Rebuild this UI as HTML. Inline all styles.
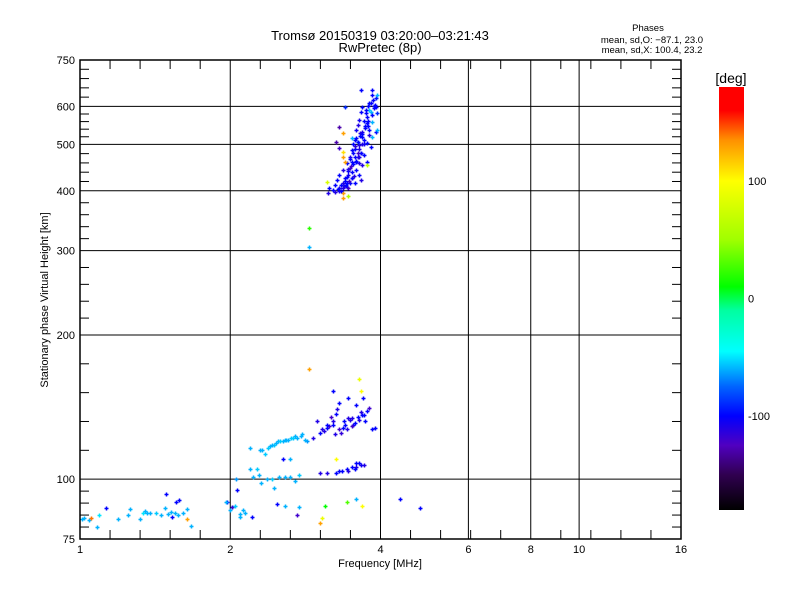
<!DOCTYPE html>
<html><head><meta charset="utf-8"><style>
body{margin:0;background:#fff}
svg{display:block;font-family:"Liberation Sans",sans-serif}
</style></head><body>
<svg id="chart" width="800" height="600" xmlns="http://www.w3.org/2000/svg">
<defs>
<linearGradient id="cmap" x1="0" y1="1" x2="0" y2="0">
<stop offset="0" stop-color="#000000"/>
<stop offset="0.0833" stop-color="#300050"/>
<stop offset="0.1528" stop-color="#5000c0"/>
<stop offset="0.2222" stop-color="#0000ff"/>
<stop offset="0.2917" stop-color="#0064ff"/>
<stop offset="0.375" stop-color="#00ffff"/>
<stop offset="0.4722" stop-color="#00ffa0"/>
<stop offset="0.5278" stop-color="#00ff00"/>
<stop offset="0.6389" stop-color="#a0ff00"/>
<stop offset="0.7778" stop-color="#ffff00"/>
<stop offset="0.875" stop-color="#ff9000"/>
<stop offset="0.9444" stop-color="#ff0000"/>
<stop offset="1" stop-color="#ff0000"/>
</linearGradient>
</defs>
<rect width="800" height="600" fill="#fff"/>
<text x="380" y="40" font-size="13" text-anchor="middle">Tromsø 20150319 03:20:00–03:21:43</text>
<text x="380" y="52" font-size="13" text-anchor="middle">RwPretec (8p)</text>
<g font-size="9.5" text-anchor="middle">
<text x="648" y="31">Phases</text>
<text x="652" y="43">mean, sd,O: −87.1, 23.0</text>
<text x="652" y="53">mean, sd,X: 100.4, 23.2</text>
</g>
<g id="grid"></g>
<g id="marks"></g>
<rect x="80" y="60" width="601" height="479" fill="none" stroke="#000" stroke-width="1.5"/>
<g id="axes" font-size="11"></g>
<text x="380" y="567" font-size="11" text-anchor="middle">Frequency [MHz]</text>
<text transform="translate(48,300) rotate(-90)" font-size="11" text-anchor="middle">Stationary phase Virtual Height [km]</text>
<rect x="719" y="87" width="25" height="423" fill="url(#cmap)"/>
<text x="731" y="83" font-size="14" text-anchor="middle">[deg]</text>
<g id="cbticks" font-size="11"></g>
</svg>
<script>
const xMajors=[1,2,4,8,16];
const xGridExtra=[6,10];
const xTickLabels=["1","2","4","6","8","10","16"];
const xTickValues=[1,2,4,6,8,10,16];
const yMajors=[75,100,200,300,400,500,600,750];
const yTickLabels=["75","100","200","300","400","500","600","750"];
const cbValues=[100,0,-100];
const freqs=[3.66,3.85,3.85,3.92,3.80,3.92,3.83,3.94,3.68,3.66,3.63,3.60,3.76,3.85,3.92,3.80,3.68,3.58,3.55,3.63,3.75,3.83,3.51,3.60,3.71,3.47,3.51,3.63,3.42,3.47,3.58,3.36,3.31,3.42,3.51,3.28,3.36,3.24,3.31,3.21,3.16,3.42,3.55,3.66,3.63,3.68,3.75,3.31,3.39,3.36,3.26,3.31,3.36,3.36,3.39,3.12,3.36,3.36,3.44,3.75,3.14,3.94,3.80,3.60,3.51,3.85,3.94,
3.55,3.45,3.50,3.40,3.58,3.66,3.70,3.72,3.78,3.74,3.88,3.62,3.44,3.30,3.48,3.68,3.56,
3.38,3.42,3.46,3.50,3.54,3.33,3.37,3.41,3.45,3.49,3.53,3.57,3.61,3.65,3.40,3.44,3.48,3.52,3.56,3.60,3.64,3.68,3.72,3.76,3.52,3.58,3.64,3.70,3.74,3.78,3.82,3.86,3.90,3.62,3.68,3.78,3.84,3.88,3.70,3.80,3.25,3.29,3.34,
2.87,2.88,2.87,3.66,3.63,
2.19,2.29,2.40,2.49,2.59,2.72,2.79,2.85,2.93,3.02,2.98,3.12,3.21,3.26,3.31,3.21,3.36,3.51,3.58,3.75,3.85,3.80,2.35,2.45,2.55,2.65,2.70,3.05,3.15,3.40,3.45,3.55,3.60,3.65,3.70,3.28,3.18,3.45,3.33,3.25,3.69,3.12,3.90,
2.32,2.38,2.42,2.47,2.52,2.57,2.61,2.67,2.77,2.82,3.08,3.22,3.30,3.38,3.48,3.53,3.62,3.67,3.72,3.50,3.42,
2.19,2.26,2.22,2.37,2.51,2.63,2.75,2.55,2.63,3.02,3.12,3.26,3.42,3.58,3.63,3.35,3.50,3.70,2.05,2.30,2.45,2.70,3.26,3.58,
3.30,3.45,3.55,3.66,2.28,2.42,2.58,
1.97,2.02,2.09,2.48,2.57,2.75,2.72,3.58,3.68,3.02,3.09,3.42,3.06,
1.01,1.04,1.08,1.09,1.13,1.19,1.25,1.26,1.32,1.34,1.36,1.38,1.45,1.48,1.49,1.50,1.53,1.55,1.56,1.58,1.61,1.64,1.64,1.67,1.96,2.00,2.02,2.06,2.09,2.12,2.21,4.37,4.80,1.05,
1.02,1.35,1.42,1.52,1.57,2.04,2.14];
const heights=[649,649,634,625,610,598,584,581,598,584,562,548,554,557,530,523,518,535,510,498,503,493,486,479,475,470,459,457,457,446,441,441,431,427,425,421,415,411,405,401,405,407,415,421,431,452,459,543,598,528,505,491,481,470,459,417,395,386,390,452,395,634,590,505,515,518,535,
470,431,437,420,460,480,510,540,560,590,600,470,405,400,415,500,490,
410,415,420,425,430,400,405,412,440,450,455,462,470,480,425,445,465,480,495,505,520,530,545,570,500,515,528,560,580,600,610,620,605,490,525,545,575,595,500,535,398,404,412,
335,305,170,153,162,
116,115,117,120,121,122,124,120,122,125,132,128,132,137,144,153,128,134,143,139,127,141,113,118,120,122,123,127,129,130,134,131,135,138,136,140,135,148,125,124,148,130,128,
115,116,118,119,120,121,121,122,123,121,126,130,127,132,133,130,133,136,132,129,127,
105,105,101,100,101,101,102,110,110,103,103,103,105,106,108,104,106,107,100,98,96,99,110,108,
104,104,105,107,102,100,101,
89.6,87.4,84.6,88.8,88,87.4,84,91,88,81,87.8,89.6,83,
82.6,82.2,79.6,84,87,82.6,84,86.6,82.6,85,84.8,85,84,87,93,84.4,83.3,84.8,89.6,90.5,85,82.6,86.6,80,89.6,86.2,87.4,95,83.3,86.2,83.3,91,87,83,
83,86,85,85.5,84,88,85];
const phases=[-100,-100,-100,-95,-100,-100,-60,-90,-100,-100,-105,-110,-100,-60,-100,-110,-100,-105,-100,-110,-100,-100,-100,-120,-100,-110,-100,-110,-100,-120,-100,-110,-100,-100,-120,-100,-110,-100,-110,-100,-100,-100,-100,-110,-100,-110,-100,-130,-90,130,-130,-120,110,130,130,80,130,130,60,70,-110,-60,-55,-60,-60,-60,-60,
-100,-105,-100,-100,-100,-100,-100,-100,-100,-100,-100,-110,-120,-110,-100,-110,-100,
-110,-100,-120,-100,-110,-100,-110,-100,-100,-120,-100,-100,-110,-100,-100,-110,-100,-100,-115,-100,-100,-110,-100,-100,-100,-100,-110,-100,-100,-100,-100,-100,-100,-110,-100,-100,-100,-100,-105,-100,-110,-100,-100,
20,-60,130,100,90,
-60,-60,-60,-60,-60,-60,-60,-65,-110,-100,-110,-100,-110,-100,-100,-100,-100,-110,-100,-100,-100,-120,-55,-55,-60,-55,-60,-110,-120,-100,-110,-100,-100,-110,-100,-110,-120,-100,-115,-110,-100,-100,-100,
-60,-55,-60,-60,-55,-60,-60,-55,-60,-60,-110,-100,-120,-100,-110,-100,-110,-100,-100,-120,-110,
-60,-55,-60,-60,-60,-60,-55,-100,-60,-110,-110,-100,-100,-110,-100,-100,-100,-110,-65,-60,-60,-60,100,-100,
-100,-110,-100,-105,-60,-55,-60,
-100,-60,-60,-100,-60,-60,-120,-60,100,130,10,30,90,
-60,-60,-60,-50,-100,-60,-60,-60,-60,-50,-60,-60,-60,-60,-100,-60,-100,-60,-100,-100,-60,130,-60,-60,-60,-60,-120,-100,-60,-60,-100,-100,-100,140,
-60,-60,-55,-60,-60,-55,-60];

const X0=80,X1=681,Y0=539,Y1=60;
function xs(f){return X0+(X1-X0)*Math.log2(f)/4;}
function ys(h){return Y0-(Y0-Y1)*Math.log10(h/75);}
const stops=[[-180,[0,0,0]],[-150,[48,0,80]],[-125,[80,0,192]],[-100,[0,0,255]],[-75,[0,100,255]],[-45,[0,255,255]],[-10,[0,255,160]],[10,[0,255,0]],[50,[160,255,0]],[100,[255,255,0]],[135,[255,144,0]],[160,[255,0,0]],[180,[255,0,0]]];
function pc(p){for(let i=1;i<stops.length;i++){if(p<=stops[i][0]){const a=stops[i-1],b=stops[i];const t=(p-a[0])/(b[0]-a[0]);const c=a[1].map((v,k)=>Math.round(v+(b[1][k]-v)*t));return `rgb(${c})`;}}return 'rgb(255,0,0)';}
const NS="http://www.w3.org/2000/svg";
function mk(tag,attrs,parent){const e=document.createElementNS(NS,tag);for(const k in attrs)e.setAttribute(k,attrs[k]);parent.appendChild(e);return e;}
const grid=document.getElementById('grid'),axes=document.getElementById('axes'),marks=document.getElementById('marks'),cb=document.getElementById('cbticks');
xMajors.concat(xGridExtra).forEach(v=>{const x=xs(v);const l=mk('line',{x1:x,x2:x,y1:Y1,y2:Y0,stroke:'#000','stroke-width':1},grid);

});
yMajors.forEach(v=>{const y=ys(v);const l=mk('line',{x1:X0,x2:X1,y1:y,y2:y,stroke:'#000','stroke-width':1},grid);

});
for(let i=0;i<xMajors.length-1;i++){const a=xs(xMajors[i]),b=xs(xMajors[i+1]);for(let k=1;k<5;k++){const x=a+(b-a)*k/5;
mk('line',{x1:x,x2:x,y1:Y0,y2:Y0-9,stroke:'#000'},axes);mk('line',{x1:x,x2:x,y1:Y1,y2:Y1+9,stroke:'#000'},axes);}}
for(let i=0;i<yMajors.length-1;i++){const a=ys(yMajors[i]),b=ys(yMajors[i+1]);for(let k=1;k<5;k++){const y=a+(b-a)*k/5;
mk('line',{x1:X0,x2:X0+9,y1:y,y2:y,stroke:'#000'},axes);mk('line',{x1:X1,x2:X1-9,y1:y,y2:y,stroke:'#000'},axes);}}
xTickValues.forEach((v,i)=>{const t=mk('text',{x:xs(v),y:553,'text-anchor':'middle'},axes);t.textContent=xTickLabels[i];

});
yMajors.forEach((v,i)=>{const t=mk('text',{x:75,y:ys(v)+4,'text-anchor':'end'},axes);t.textContent=yTickLabels[i];

});
cbValues.forEach(v=>{const y=87+423*(180-v)/360;const t=mk('text',{x:748,y:y+4},cb);t.textContent=String(v);

});
for(let i=0;i<freqs.length;i++){const x=Math.round(xs(freqs[i]))+0.5,y=Math.round(ys(heights[i]))+0.5,c=pc(phases[i]);
const g=mk('path',{d:`M${x-2},${y}H${x+2}M${x},${y-2}V${y+2}`,stroke:c,'stroke-width':1.5,fill:'none'},marks);

}
</script>
</body></html>
